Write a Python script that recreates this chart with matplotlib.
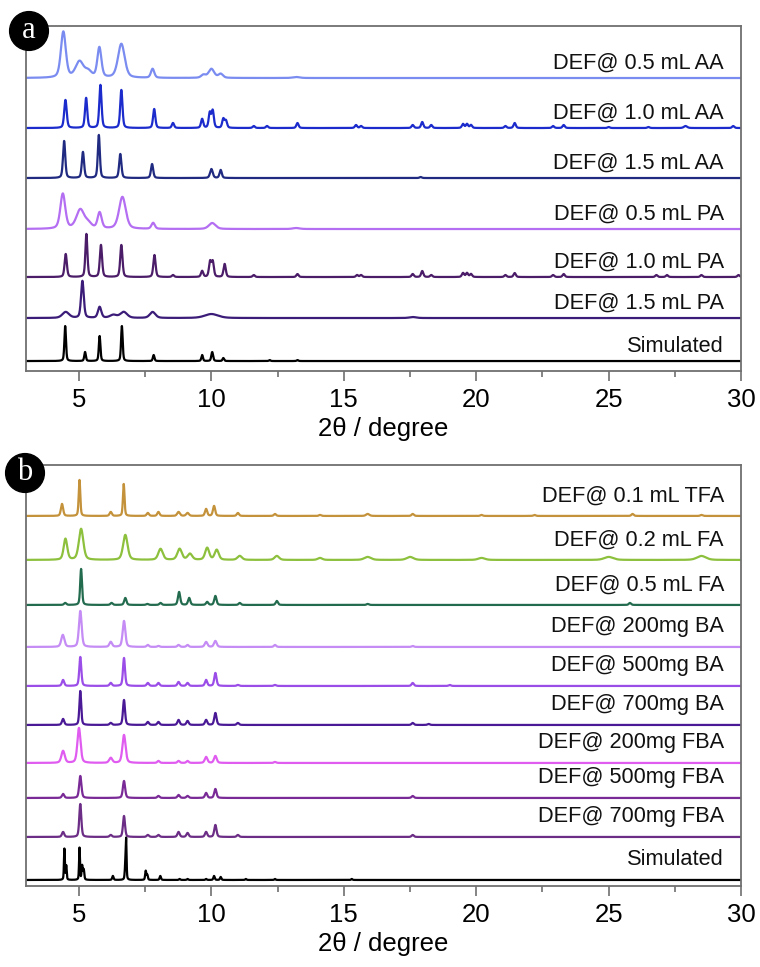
import numpy as np
import matplotlib.pyplot as plt
from matplotlib.ticker import MultipleLocator

plt.rcParams['font.family'] = ['Liberation Sans', 'DejaVu Sans']

# peak tables: (2theta, height, fwhm)
aa05 = [(4.41, 46, 0.22), (5.02, 16, 0.35), (5.35, 6, 0.3), (5.77, 30, 0.18), (6.6, 34, 0.3),
        (7.78, 9, 0.15), (9.7, 3, 0.2), (10.0, 9, 0.25), (10.35, 4, 0.2), (13.2, 1, 0.3)]
aa10 = [(4.49, 28, 0.11), (5.27, 30, 0.1), (5.81, 43, 0.1), (6.6, 38, 0.1), (7.84, 19, 0.1),
        (8.55, 5, 0.1), (9.65, 9, 0.1), (9.94, 15, 0.1), (10.05, 17, 0.1), (10.45, 9, 0.1),
        (10.55, 7, 0.1), (11.6, 2, 0.1), (12.1, 2, 0.1), (13.25, 5, 0.1), (15.46, 3, 0.1),
        (15.65, 2, 0.1), (17.6, 3, 0.1), (17.96, 6, 0.1), (18.3, 3, 0.1), (19.5, 4, 0.1),
        (19.65, 4, 0.1), (19.8, 3, 0.1), (21.1, 2, 0.1), (21.45, 5, 0.1), (22.9, 2, 0.1),
        (23.3, 3, 0.1), (25.0, 1, 0.1), (26.5, 1, 0.1), (27.9, 2, 0.15), (29.7, 2, 0.1)]
aa15 = [(4.44, 37, 0.1), (5.15, 26, 0.1), (5.75, 43, 0.09), (6.56, 24, 0.1), (7.76, 14, 0.1),
        (10.0, 9, 0.12), (10.35, 8, 0.1), (17.9, 1, 0.1)]
pa05 = [(4.39, 35, 0.22), (5.05, 19, 0.35), (5.35, 5, 0.3), (5.78, 16, 0.18), (6.64, 32, 0.3),
        (7.8, 6, 0.15), (10.03, 6, 0.3), (13.2, 1, 0.3)]
pa10 = [(4.5, 23, 0.1), (5.28, 43, 0.09), (5.83, 32, 0.1), (6.6, 32, 0.1), (7.85, 22, 0.1),
        (8.55, 2, 0.1), (9.65, 6, 0.1), (9.95, 15, 0.1), (10.05, 15, 0.1), (10.5, 13, 0.1),
        (11.6, 2, 0.1), (13.25, 3, 0.1), (15.5, 2, 0.1), (15.65, 2, 0.1), (17.6, 3, 0.1),
        (17.96, 6, 0.1), (18.3, 2, 0.1), (19.5, 4, 0.1), (19.65, 4, 0.1), (19.8, 3, 0.1),
        (21.1, 2, 0.1), (21.45, 4, 0.1), (22.9, 2, 0.1), (23.3, 3, 0.1), (26.8, 2, 0.1),
        (27.2, 2, 0.1), (28.5, 2, 0.1), (29.9, 2, 0.1)]
pa15 = [(4.5, 6, 0.3), (5.13, 37, 0.12), (5.78, 11, 0.15), (6.3, 3, 0.3), (6.69, 6, 0.3),
        (7.78, 6, 0.25), (10.0, 4, 0.6), (17.6, 1, 0.3)]
sim_a = [(4.48, 35, 0.07), (5.23, 9, 0.07), (5.78, 25, 0.07), (6.62, 35, 0.07), (7.82, 6, 0.07),
         (9.65, 6, 0.07), (10.03, 9, 0.08), (10.45, 3, 0.07), (12.2, 1, 0.07), (13.25, 1, 0.07)]

tfa = [(4.36, 12, 0.1), (5.02, 36, 0.07), (6.2, 4, 0.1), (6.69, 32, 0.07), (7.6, 3, 0.1),
       (8.0, 4, 0.1), (8.76, 4, 0.12), (9.1, 3, 0.12), (9.8, 7, 0.1), (10.1, 10, 0.1),
       (11.0, 3, 0.1), (12.4, 2, 0.1), (14.1, 1, 0.1), (15.9, 2, 0.15), (17.6, 2, 0.1),
       (20.2, 1, 0.1), (22.2, 1, 0.1), (25.9, 2, 0.1), (28.5, 1, 0.1)]
fa02 = [(4.49, 21, 0.16), (5.08, 31, 0.2), (6.75, 25, 0.2), (8.08, 11, 0.2), (8.8, 11, 0.2),
        (9.19, 6, 0.2), (9.84, 12, 0.18), (10.2, 10, 0.18), (11.07, 4, 0.2), (12.47, 4, 0.2),
        (14.1, 2, 0.2), (15.9, 3, 0.3), (17.5, 3, 0.3), (20.2, 2, 0.3), (25.0, 3, 0.4),
        (28.5, 4, 0.4)]
fa05 = [(4.48, 2, 0.1), (5.08, 36, 0.08), (6.23, 2, 0.1), (6.75, 7, 0.1), (7.58, 1, 0.1),
        (8.08, 2, 0.1), (8.78, 13, 0.1), (9.16, 7, 0.1), (9.84, 3, 0.1), (10.15, 9, 0.1),
        (11.07, 2, 0.1), (12.47, 4, 0.1), (15.9, 1, 0.1), (25.8, 2, 0.1)]
ba200 = [(4.39, 12, 0.14), (5.05, 36, 0.12), (6.2, 5, 0.12), (6.7, 26, 0.12), (7.6, 2, 0.1),
         (8.0, 1, 0.1), (8.76, 2, 0.1), (9.1, 2, 0.1), (9.8, 5, 0.12), (10.15, 6, 0.12),
         (12.4, 2, 0.1), (17.6, 1, 0.1)]
ba500 = [(4.4, 6, 0.1), (5.05, 29, 0.09), (6.2, 3, 0.1), (6.7, 28, 0.09), (7.6, 3, 0.1),
         (8.0, 3, 0.1), (8.76, 4, 0.1), (9.1, 3, 0.1), (9.8, 6, 0.1), (10.15, 13, 0.1),
         (11.0, 1, 0.1), (12.4, 1, 0.1), (17.6, 3, 0.1), (19.0, 1, 0.1)]
ba700 = [(4.4, 6, 0.1), (5.05, 34, 0.08), (6.2, 2, 0.1), (6.7, 25, 0.09), (7.6, 3, 0.1),
         (8.0, 3, 0.1), (8.76, 5, 0.1), (9.1, 4, 0.1), (9.8, 5, 0.1), (10.15, 12, 0.1),
         (11.0, 2, 0.1), (17.6, 2, 0.1), (18.2, 1, 0.1)]
fba200 = [(4.4, 12, 0.15), (5.0, 35, 0.14), (6.2, 5, 0.14), (6.7, 28, 0.14), (8.0, 2, 0.1),
          (8.76, 2, 0.1), (9.1, 2, 0.1), (9.8, 6, 0.12), (10.15, 7, 0.12), (12.4, 1, 0.1)]
fba500 = [(4.4, 4, 0.1), (5.05, 22, 0.1), (6.7, 17, 0.1), (8.0, 2, 0.1), (8.76, 3, 0.1),
          (9.1, 2, 0.1), (9.8, 5, 0.1), (10.15, 9, 0.1), (17.6, 2, 0.1)]
fba700 = [(4.4, 5, 0.1), (5.05, 33, 0.09), (6.2, 2, 0.1), (6.7, 21, 0.09), (7.6, 2, 0.1),
          (8.0, 2, 0.1), (8.76, 5, 0.1), (9.1, 4, 0.1), (9.8, 5, 0.1), (10.15, 12, 0.1),
          (11.0, 2, 0.1), (17.6, 2, 0.1)]
sim_b = [(4.45, 31, 0.04), (4.52, 14, 0.04), (5.02, 32, 0.04), (5.12, 14, 0.05), (5.18, 10, 0.05),
         (6.28, 4, 0.06), (6.78, 38, 0.04), (6.75, 12, 0.05), (7.52, 9, 0.05), (7.58, 5, 0.05),
         (8.07, 4, 0.06), (8.8, 1, 0.06), (9.1, 1, 0.06), (9.8, 1, 0.06), (10.1, 4, 0.06),
         (10.35, 3, 0.06), (11.3, 1, 0.06), (12.4, 1, 0.06), (15.3, 1, 0.06)]

labels_a = ['DEF@ 0.5 mL AA', 'DEF@ 1.0 mL AA', 'DEF@ 1.5 mL AA', 'DEF@ 0.5 mL PA',
            'DEF@ 1.0 mL PA', 'DEF@ 1.5 mL PA', 'Simulated']
labels_b = ['DEF@ 0.1 mL TFA', 'DEF@ 0.2 mL FA', 'DEF@ 0.5 mL FA', 'DEF@ 200mg BA',
            'DEF@ 500mg BA', 'DEF@ 700mg BA', 'DEF@ 200mg FBA', 'DEF@ 500mg FBA',
            'DEF@ 700mg FBA', 'Simulated']
peaks_a = [aa05, aa10, aa15, pa05, pa10, pa15, sim_a]
peaks_b = [tfa, fa02, fa05, ba200, ba500, ba700, fba200, fba500, fba700, sim_b]

colors_a = ['#7b8cf0', '#1c2ccc', '#1f2a80', '#b46ef2', '#4b1c68', '#3b1c78', 'black']
colors_b = ['#c4923a', '#8dc03d', '#236b4e', '#c48cf4', '#9b4de8', '#4a1996', '#e05cf0',
            '#7a2a96', '#6b2d85', 'black']
# vertical offsets (layout)
offs_a = [293, 243, 193, 142, 94, 53, 10]
offs_b = [370, 326, 281, 239, 200, 161, 123, 88, 49, 6]

x = np.linspace(3, 30, 5400)


def pattern(peaks):
    y = np.zeros_like(x)
    for p, h, w in peaks:
        g = np.exp(-4 * np.log(2) * ((x - p) / w) ** 2)
        lor = 1 / (1 + ((x - p) / (w / 2)) ** 2)
        y += h * (0.6 * g + 0.4 * lor)
    return y


fig = plt.figure(figsize=(7.6, 9.67), dpi=100)
ax_a = fig.add_axes([0.0342, 0.6163, 0.941, 0.3568])
ax_b = fig.add_axes([0.0342, 0.0838, 0.941, 0.4354])

for ax, peaks, labels, cols, offs, ytop, dy in [
        (ax_a, peaks_a, labels_a, colors_a, offs_a, 345, 15),
        (ax_b, peaks_b, labels_b, colors_b, offs_b, 421, 20)]:
    for pk, lab, c, off in zip(peaks, labels, cols, offs):
        ax.plot(x, pattern(pk) + off, color=c, lw=1.6)
        ax.text(29.35, off + dy, lab, ha='right', va='center', fontsize=15.7, color='#111111')
    ax.set_xlim(3, 30)
    ax.set_ylim(0, ytop)
    ax.set_yticks([])
    ax.xaxis.set_major_locator(MultipleLocator(5))
    ax.xaxis.set_minor_locator(MultipleLocator(2.5))
    ax.tick_params(axis='x', which='major', length=7, width=1.2, color='#707070',
                   labelsize=18.5, pad=5)
    ax.tick_params(axis='x', which='minor', length=4, width=1.2, color='#707070')
    for s in ax.spines.values():
        s.set_color('#707070')
        s.set_linewidth(1.3)
    ax.set_xlabel('2θ / degree', fontsize=18.5, labelpad=4)

for lab, fx, fy in [('a', 29, 31), ('b', 25, 473)]:
    fig.text(fx / 760, 1 - fy / 967, lab, ha='center', va='center', color='white',
             fontsize=22, family='Liberation Serif',
             bbox=dict(boxstyle='circle,pad=0.16', fc='black', ec='black'))

fig.savefig('out.png', dpi=100)
